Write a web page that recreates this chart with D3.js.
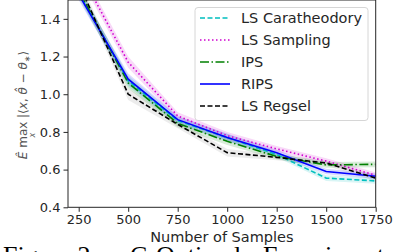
<!DOCTYPE html>
<html>
<head>
<meta charset="utf-8">
<script src="https://cdn.jsdelivr.net/npm/d3@7"></script>
<style>
  body { margin: 0; background: #fff; }
  svg { display: block; }
</style>
</head>
<body>
<svg></svg>
<script>
const samples = [250, 500, 750, 1000, 1250, 1500, 1750];
const lsCaratheodory = [1.54, 1.07, 0.86, 0.77, 0.68, 0.555, 0.54];
const lsSampling = [1.66, 1.17, 0.885, 0.78, 0.71, 0.645, 0.57];
const ips = [1.55, 1.06, 0.845, 0.75, 0.67, 0.625, 0.628];
const rips = [1.53, 1.08, 0.865, 0.77, 0.69, 0.59, 0.565];
const lsRegsel = [1.59, 1.0, 0.84, 0.69, 0.665, 0.635, 0.555];
const spread = [0.03, 0.03, 0.02, 0.02, 0.015, 0.015, 0.015];
const xTicks = [250, 500, 750, 1000, 1250, 1500, 1750];
const yTicks = [0.4, 0.6, 0.8, 1.0, 1.2, 1.4];

const series = [
  { name: "LS Caratheodory", values: lsCaratheodory, color: "#00bfbf", dash: "5,2.5" },
  { name: "LS Sampling", values: lsSampling, color: "#d000d0", dash: "1.5,2.5" },
  { name: "IPS", values: ips, color: "#008000", dash: "9,2.5,1.5,2.5" },
  { name: "RIPS", values: rips, color: "#0000ff", dash: null },
  { name: "LS Regsel", values: lsRegsel, color: "#000000", dash: "5,2.5" },
];

const svg = d3.select("svg").attr("width", 393).attr("height", 252);
const margin = { top: 0, left: 68, right: 17.3, bottom: 44.7 };
const innerWidth = 393 - margin.left - margin.right;
const innerHeight = 252 - margin.top - margin.bottom;

const xScale = d3.scaleLinear().domain([196, 1750]).range([0, innerWidth]);
const yScale = d3.scaleLinear().domain([0.4, 1.5]).range([innerHeight, 0]);

const g = svg.append("g").attr("transform", `translate(${margin.left}, ${margin.top})`);

svg.append("defs").append("clipPath").attr("id", "clip")
  .append("rect").attr("width", innerWidth).attr("height", innerHeight);

const plot = g.append("g").attr("clip-path", "url(#clip)");

//Bands
series.forEach((s) => {
  const area = d3.area()
    .x((d, i) => xScale(samples[i]))
    .y0((d, i) => yScale(d - spread[i]))
    .y1((d, i) => yScale(d + spread[i]));
  plot.append("path")
    .attr("d", area(s.values))
    .attr("fill", s.color === "#000000" ? "#808080" : s.color)
    .attr("opacity", 0.15);
});

//Lines
series.forEach((s) => {
  const line = d3.line().x((d, i) => xScale(samples[i])).y((d) => yScale(d));
  plot.append("path")
    .attr("d", line(s.values))
    .attr("fill", "none")
    .attr("stroke", s.color)
    .attr("stroke-width", 1.6)
    .attr("stroke-dasharray", s.dash);
});

//Axes
const xAxis = d3.axisBottom(xScale).tickValues(xTicks).tickSize(4.5).tickPadding(3)
  .tickFormat(d3.format("d"));
const yAxis = d3.axisLeft(yScale).tickValues(yTicks).tickSize(4.5).tickPadding(3)
  .tickFormat(d3.format(".1f"));

g.append("g").attr("transform", `translate(0, ${innerHeight})`).call(xAxis)
  .call((a) => a.select(".domain").remove());
g.append("g").call(yAxis).call((a) => a.select(".domain").remove());

g.selectAll(".tick text")
  .attr("fill", "#262626")
  .style("font-family", "DejaVu Sans")
  .style("font-size", "13px");
g.selectAll(".tick line").attr("stroke", "#262626");

g.append("rect")
  .attr("width", innerWidth)
  .attr("height", innerHeight)
  .attr("fill", "none")
  .attr("stroke", "#262626")
  .attr("stroke-width", 1);

//Axis labels
g.append("text")
  .attr("x", innerWidth / 2)
  .attr("y", 242)
  .attr("text-anchor", "middle")
  .attr("fill", "#262626")
  .style("font-family", "DejaVu Sans")
  .style("font-size", "14.5px")
  .text("Number of Samples");

const ylab = svg.append("text")
  .attr("transform", "translate(27, 105) rotate(-90)")
  .attr("text-anchor", "middle")
  .attr("fill", "#555")
  .style("font-family", "DejaVu Sans")
  .style("font-size", "12px");
ylab.append("tspan").style("font-style", "italic").text("Ê");
ylab.append("tspan").text(" max");
ylab.append("tspan").attr("dy", 7.5).attr("dx", -16).style("font-size", "8px").style("font-style", "italic").text("x");
ylab.append("tspan").attr("dy", -7.5).attr("dx", 11).text(" |⟨");
ylab.append("tspan").style("font-style", "italic").text("x");
ylab.append("tspan").text(", ");
ylab.append("tspan").style("font-style", "italic").text("θ̂");
ylab.append("tspan").text(" − ");
ylab.append("tspan").style("font-style", "italic").text("θ");
ylab.append("tspan").attr("dy", 3).style("font-size", "8px").text("∗");
ylab.append("tspan").attr("dy", -3).text("⟩");

//Legend
const legend = svg.append("g").attr("transform", "translate(195, 7.5)");
legend.append("rect")
  .attr("width", 173)
  .attr("height", 113)
  .attr("rx", 3)
  .attr("fill", "#fff")
  .attr("fill-opacity", 0.8)
  .attr("stroke", "#d6d6d6");
series.forEach((s, i) => {
  const row = legend.append("g").attr("transform", `translate(0, ${10.5 + i * 22})`);
  row.append("line")
    .attr("x1", 5).attr("x2", 35)
    .attr("stroke", s.color)
    .attr("stroke-width", 1.6)
    .attr("stroke-dasharray", s.dash);
  row.append("text")
    .attr("x", 46)
    .attr("y", 5)
    .attr("fill", "#262626")
    .style("font-family", "DejaVu Sans")
    .style("font-size", "14.5px")
    .text(s.name);
});

//Caption (clipped by the window)
const caption = [
  { text: "Figure 2:", x: 3 },
  { text: "C-Optimal", x: 130 },
  { text: "Experiment", x: 263 },
];
svg.selectAll(".caption")
  .data(caption)
  .enter()
  .append("text")
  .attr("class", "caption")
  .attr("x", (d) => d.x)
  .attr("y", 264)
  .attr("fill", "#000")
  .style("font-family", "Liberation Serif")
  .style("font-size", "26px")
  .text((d) => d.text);
</script>
</body>
</html>
